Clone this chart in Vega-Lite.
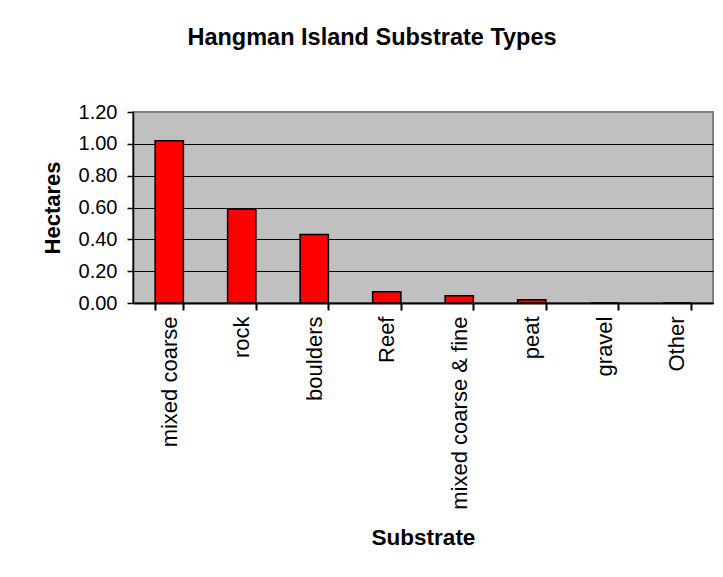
{
  "$schema": "https://vega.github.io/schema/vega-lite/v6.json",
  "width": 580,
  "height": 191,
  "autosize": "none",
  "padding": {"left": 133, "top": 112, "right": 10, "bottom": 274},
  "background": "white",
  "title": {
    "text": "Hangman Island Substrate Types",
    "font": "Liberation Sans",
    "fontSize": 23.5,
    "fontWeight": "bold",
    "color": "black",
    "anchor": "middle",
    "frame": "group",
    "dx": -51,
    "baseline": "alphabetic",
    "offset": 34
  },
  "data": {
    "values": [
      {"Substrate": "mixed coarse", "Hectares": 1.02},
      {"Substrate": "rock", "Hectares": 0.59},
      {"Substrate": "boulders", "Hectares": 0.43},
      {"Substrate": "Reef", "Hectares": 0.07},
      {"Substrate": "mixed coarse & fine", "Hectares": 0.045},
      {"Substrate": "peat", "Hectares": 0.02},
      {"Substrate": "gravel", "Hectares": 0},
      {"Substrate": "Other", "Hectares": 0}
    ]
  },
  "mark": {"type": "bar", "color": "#FF0000", "stroke": "black", "strokeWidth": 1.5},
  "encoding": {
    "x": {
      "field": "Substrate",
      "type": "nominal",
      "sort": null,
      "scale": {"paddingInner": 0.61, "paddingOuter": 0.305},
      "axis": {
        "title": "Substrate",
        "labelAngle": 270,
        "labelAlign": "right",
        "labelBaseline": "middle",
        "labelFontSize": 22,
        "labelColor": "black",
        "labelLimit": 400,
        "labelOverlap": false,
        "labelPadding": 6,
        "tickBand": "extent",
        "tickSize": 7,
        "tickWidth": 2,
        "tickColor": "black",
        "domainColor": "black",
        "domainWidth": 2,
        "grid": false,
        "titleFontSize": 22.5,
        "titleFontWeight": "bold",
        "titleColor": "black",
        "titleBaseline": "alphabetic",
        "titleX": 290,
        "titleY": 241
      }
    },
    "y": {
      "field": "Hectares",
      "type": "quantitative",
      "scale": {"domain": [0, 1.2], "nice": false},
      "axis": {
        "title": "Hectares",
        "values": [0, 0.2, 0.4, 0.6, 0.8, 1.0, 1.2],
        "format": ".2f",
        "labelFontSize": 20,
        "labelColor": "black",
        "labelPadding": 10,
        "tickSize": 6,
        "tickWidth": 1.5,
        "tickColor": "black",
        "domainColor": "black",
        "domainWidth": 1.5,
        "grid": true,
        "gridColor": {"condition": {"test": "datum.value >= 1.2", "value": "#808080"}, "value": "black"},
        "gridWidth": 1,
        "gridOpacity": 1,
        "titleFontSize": 22,
        "titleFontWeight": "bold",
        "titleColor": "black",
        "titlePadding": 14
      }
    }
  },
  "config": {
    "font": "Liberation Sans",
    "view": {"fill": "#C0C0C0", "stroke": "#808080", "strokeWidth": 2}
  }
}
